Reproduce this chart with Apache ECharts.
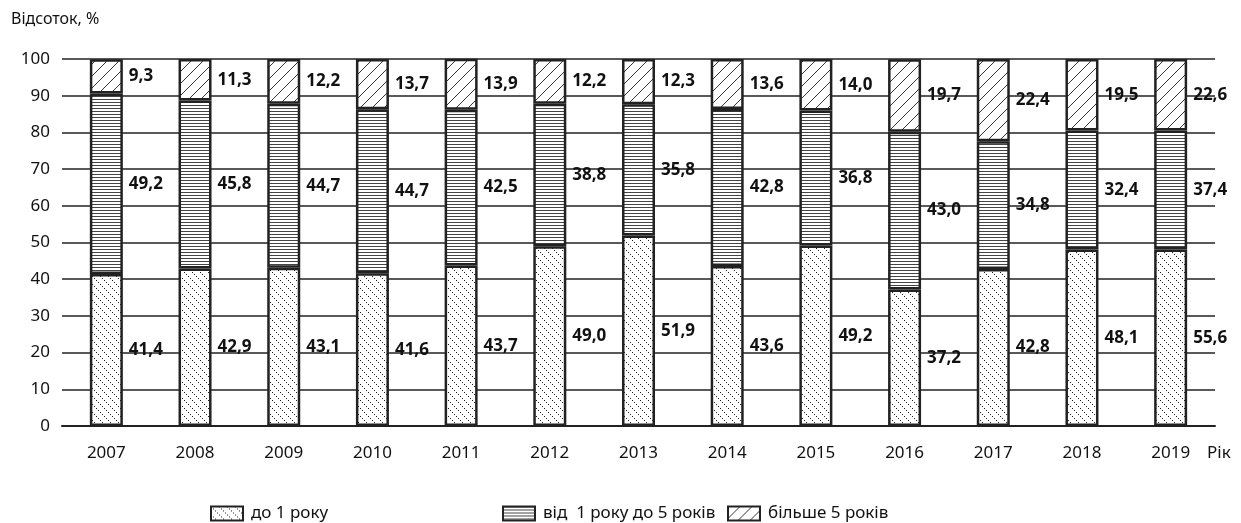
<!DOCTYPE html>
<html><head><meta charset="utf-8">
<script src="https://cdn.jsdelivr.net/npm/echarts@6/dist/echarts.min.js"></script>
<style>html,body{margin:0;padding:0;background:#fff}#c{width:1241px;height:523px}</style>
</head><body><div id="c"></div>
<script>
const years = ['2007','2008','2009','2010','2011','2012','2013','2014','2015','2016','2017','2018','2019'];
// printed values (labels)
const under1Labels = [41.4,42.9,43.1,41.6,43.7,49.0,51.9,43.6,49.2,37.2,42.8,48.1,55.6];
const from1to5Labels = [49.2,45.8,44.7,44.7,42.5,38.8,35.8,42.8,36.8,43.0,34.8,32.4,37.4];
const over5Labels = [9.3,11.3,12.2,13.7,13.9,12.2,12.3,13.6,14.0,19.7,22.4,19.5,22.6];
// bar heights as drawn in the picture (2019 bar is drawn like 2018)
const under1Bars = [41.4,42.9,43.1,41.6,43.7,49.0,51.9,43.6,49.2,37.2,42.8,48.1,48.1];
const from1to5Bars = [49.2,45.8,44.7,44.7,42.5,38.8,35.8,42.8,36.8,43.0,34.8,32.4,32.4];
const over5Bars = [9.3,11.3,12.2,13.7,13.9,12.2,12.3,13.6,14.0,19.7,22.4,19.5,19.5];
const seriesNames = ['до 1 року','від  1 року до 5 років','більше 5 років'];
const yTicks = [0,10,20,30,40,50,60,70,80,90,100];

function pat(type){
  const c=document.createElement('canvas');
  const ctx=c.getContext('2d');
  if(type==='dots'){
    c.width=8;c.height=8;ctx.fillStyle='#fff';ctx.fillRect(0,0,8,8);
    ctx.fillStyle='#222';
    for(let i=0;i<8;i+=2){ctx.fillRect(i,i,1,1);}
  } else if(type==='hlines'){
    c.width=4;c.height=3;ctx.fillStyle='#fff';ctx.fillRect(0,0,4,3);
    ctx.fillStyle='#444';ctx.fillRect(0,0,4,1);
  } else {
    c.width=12;c.height=12;ctx.fillStyle='#fff';ctx.fillRect(0,0,12,12);
    ctx.strokeStyle='#333';ctx.lineWidth=1;
    ctx.beginPath();ctx.moveTo(0,12);ctx.lineTo(12,0);ctx.stroke();
    ctx.beginPath();ctx.moveTo(-1,1);ctx.lineTo(1,-1);ctx.stroke();
    ctx.beginPath();ctx.moveTo(11,13);ctx.lineTo(13,11);ctx.stroke();
  }
  return {image:c, repeat:'repeat'};
}
const fmt = v => v.toFixed(1).replace('.',',');
function mk(name, bars, labels, p){
  return {
    name, type:'bar', stack:'s', barWidth:33, data:bars,
    itemStyle:{color:pat(p), borderColor:'#222', borderWidth:2.5},
    label:{show:true, position:'right', distance:6, fontFamily:'Noto Sans', fontWeight:'bold', fontSize:17, color:'#111',
      formatter:(pr)=>fmt(labels[pr.dataIndex])},
    emphasis:{disabled:true}, animation:false
  };
}
const chart=echarts.init(document.getElementById('c'),null,{renderer:'canvas'});
const legStyle={fontFamily:'Noto Sans', fontSize:17, color:'#111', padding:[0,0,0,3]};
chart.setOption({
  animation:false,
  textStyle:{fontFamily:'Noto Sans'},
  title:{text:'Відсоток, %', left:6, top:6, textStyle:{fontFamily:'Noto Sans', fontSize:16, fontWeight:'normal', color:'#111'}},
  grid:{left:62, right:26, top:59, bottom:97},
  legend:[
    {data:[seriesNames[0]], left:205, top:500, itemWidth:32, itemHeight:14, icon:'rect', textStyle:legStyle, selectedMode:false},
    {data:[seriesNames[1]], left:497, top:500, itemWidth:32, itemHeight:14, icon:'rect', textStyle:legStyle, selectedMode:false},
    {data:[seriesNames[2]], left:722, top:500, itemWidth:32, itemHeight:14, icon:'rect', textStyle:legStyle, selectedMode:false}
  ],
  xAxis:{type:'category', data:years, name:'Рік', nameLocation:'end', nameGap:-8,
    nameTextStyle:{fontFamily:'Noto Sans', fontSize:17, color:'#111', verticalAlign:'top', padding:[19,0,0,0]},
    axisLine:{lineStyle:{color:'#222', width:2}}, axisTick:{show:false},
    axisLabel:{fontFamily:'Noto Sans', fontSize:17, color:'#111', margin:19}},
  yAxis:{type:'value', min:0, max:100, interval:10,
    axisLine:{show:false}, axisTick:{show:false},
    axisLabel:{fontFamily:'Noto Sans', fontSize:17, color:'#111', margin:12, formatter:v=>yTicks.includes(v)?String(v):''},
    splitLine:{lineStyle:{color:'#222', width:1.5}}},
  series:[
    mk(seriesNames[0], under1Bars, under1Labels, 'dots'),
    mk(seriesNames[1], from1to5Bars, from1to5Labels, 'hlines'),
    mk(seriesNames[2], over5Bars, over5Labels, 'diag')
  ]
});
</script></body></html>
